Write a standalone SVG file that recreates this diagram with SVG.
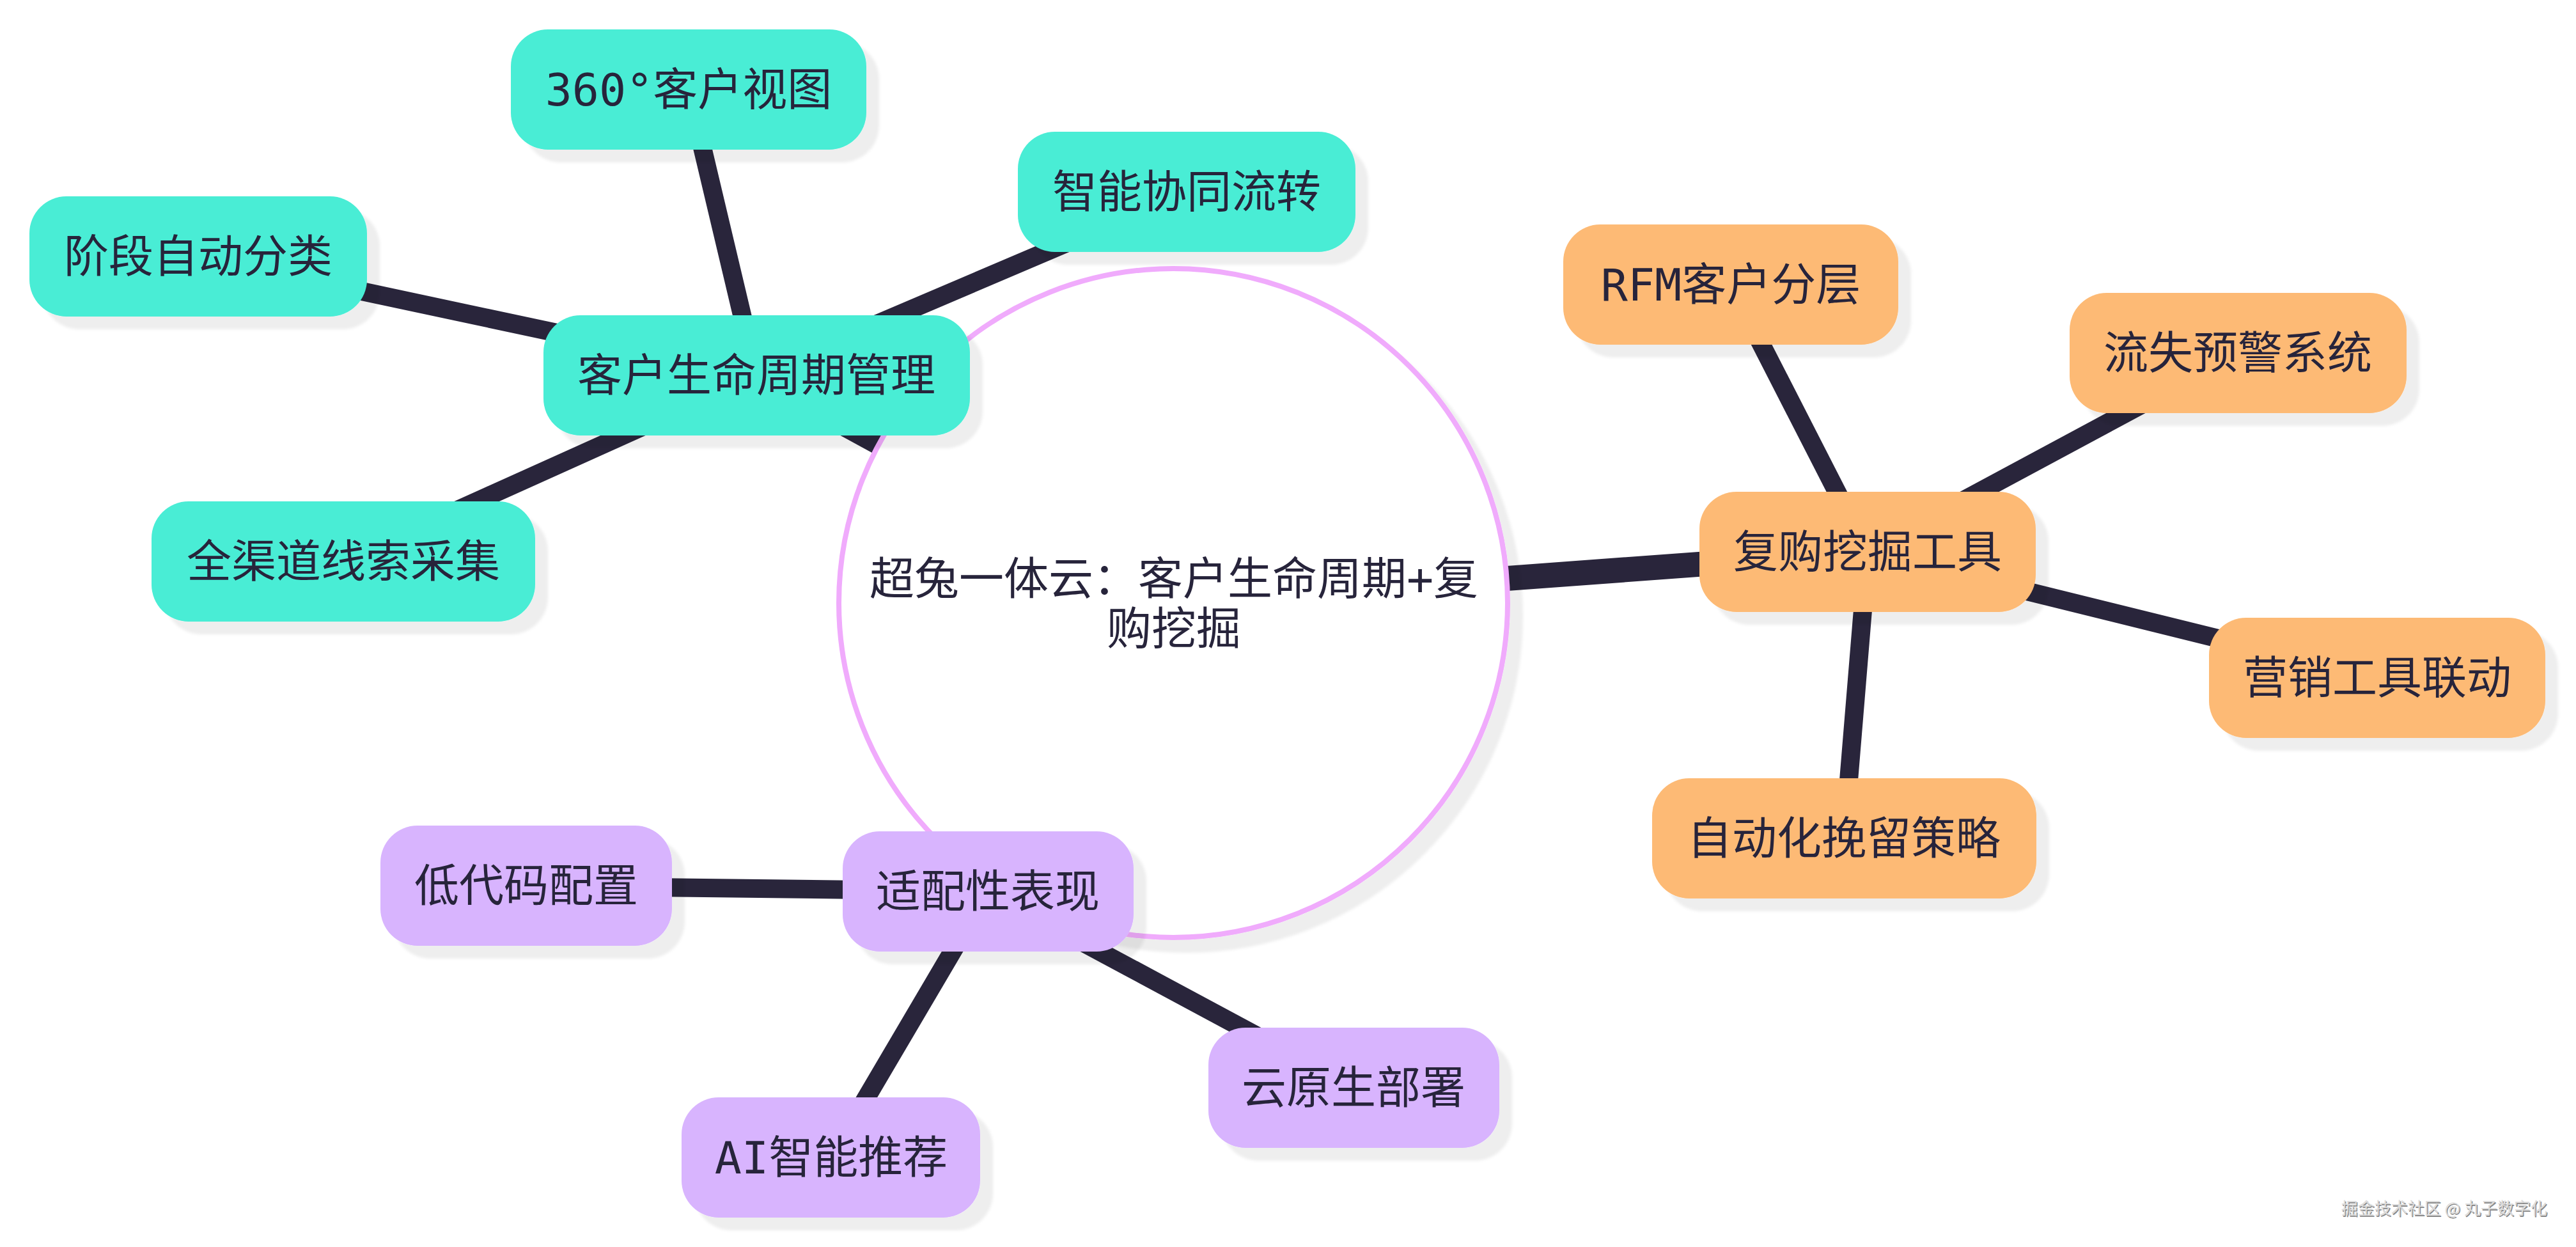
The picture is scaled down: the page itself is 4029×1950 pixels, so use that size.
<svg xmlns="http://www.w3.org/2000/svg" width="4029" height="1950" viewBox="0 0 4029 1950">
<defs>
<filter id="sh" x="-10%" y="-10%" width="130%" height="130%">
<feDropShadow dx="20" dy="20" stdDeviation="2" flood-color="#000" flood-opacity="0.065"/>
</filter>
<style>
.edge{stroke:#29253b;fill:none;stroke-linecap:butt}
.e0{stroke-width:39}
.e1{stroke-width:29}
.node rect{filter:url(#sh)}
.teal rect{fill:#48edd5}
.orange rect{fill:#fdba74}
.purple rect{fill:#d8b4fe}
.lbl{font-family:"DejaVu Sans Mono","Noto Sans CJK SC",monospace;font-size:70px;fill:#27243b;text-anchor:middle}
.wm{font-family:"Noto Sans CJK SC","Noto Sans",sans-serif;font-size:26px;text-anchor:end}
</style>
</defs>
<rect x="0" y="0" width="4029" height="1950" fill="#ffffff"/>
<g id="connectors">
<line class="edge e1" x1="1183" y1="587" x2="1077" y2="140"/>
<line class="edge e1" x1="1183" y1="587" x2="1856" y2="300"/>
<line class="edge e1" x1="1183" y1="587" x2="310" y2="401"/>
<line class="edge e1" x1="1183" y1="587" x2="537" y2="878"/>
<line class="edge e1" x1="2921" y1="863" x2="2707" y2="445"/>
<line class="edge e1" x1="2921" y1="863" x2="3500" y2="552"/>
<line class="edge e1" x1="2921" y1="863" x2="3718" y2="1060"/>
<line class="edge e1" x1="2921" y1="863" x2="2884" y2="1311"/>
<line class="edge e1" x1="1545" y1="1394" x2="823" y2="1385"/>
<line class="edge e1" x1="1545" y1="1394" x2="1300" y2="1810"/>
<line class="edge e1" x1="1545" y1="1394" x2="2117" y2="1701"/>
<line class="edge e0" x1="1835" y1="943" x2="1183" y2="587"/>
<line class="edge e0" x1="1835" y1="943" x2="2921" y2="863"/>
<line class="edge e0" x1="1835" y1="943" x2="1545" y2="1394"/>
</g>
<g id="root">
<circle cx="1835" cy="943" r="523" fill="#ffffff" stroke="#f0abfc" stroke-width="8" filter="url(#sh)"/>
<text class="lbl" x="1836" y="930">超兔一体云：客户生命周期+复</text>
<text class="lbl" x="1836" y="1008">购挖掘</text>
</g>
<g id="n1" class="node teal"><rect x="850" y="493" width="667" height="188" rx="58"/><text class="lbl" x="1183" y="612">客户生命周期管理</text></g>
<g id="n2" class="node teal"><rect x="799" y="46" width="556" height="188" rx="58"/><text class="lbl" x="1077" y="165">360°客户视图</text></g>
<g id="n3" class="node teal"><rect x="1592" y="206" width="528" height="188" rx="58"/><text class="lbl" x="1856" y="325">智能协同流转</text></g>
<g id="n4" class="node teal"><rect x="46" y="307" width="528" height="188" rx="58"/><text class="lbl" x="310" y="426">阶段自动分类</text></g>
<g id="n5" class="node teal"><rect x="237" y="784" width="600" height="188" rx="58"/><text class="lbl" x="537" y="903">全渠道线索采集</text></g>
<g id="n6" class="node orange"><rect x="2658" y="769" width="526" height="188" rx="58"/><text class="lbl" x="2921" y="888">复购挖掘工具</text></g>
<g id="n7" class="node orange"><rect x="2445" y="351" width="524" height="188" rx="58"/><text class="lbl" x="2707" y="470">RFM客户分层</text></g>
<g id="n8" class="node orange"><rect x="3237" y="458" width="527" height="188" rx="58"/><text class="lbl" x="3500" y="577">流失预警系统</text></g>
<g id="n9" class="node orange"><rect x="3455" y="966" width="526" height="188" rx="58"/><text class="lbl" x="3718" y="1085">营销工具联动</text></g>
<g id="n10" class="node orange"><rect x="2584" y="1217" width="601" height="188" rx="58"/><text class="lbl" x="2884" y="1336">自动化挽留策略</text></g>
<g id="n11" class="node purple"><rect x="1318" y="1300" width="455" height="188" rx="58"/><text class="lbl" x="1545" y="1419">适配性表现</text></g>
<g id="n12" class="node purple"><rect x="595" y="1291" width="456" height="188" rx="58"/><text class="lbl" x="823" y="1410">低代码配置</text></g>
<g id="n13" class="node purple"><rect x="1066" y="1716" width="467" height="188" rx="58"/><text class="lbl" x="1300" y="1835">AI智能推荐</text></g>
<g id="n14" class="node purple"><rect x="1890" y="1607" width="455" height="188" rx="58"/><text class="lbl" x="2117" y="1726">云原生部署</text></g>
<g id="watermark">
<text class="wm" x="3985.5" y="1900.5" fill="#8a8a8a">掘金技术社区 @ 丸子数字化</text>
<text class="wm" x="3984" y="1899" fill="#dcdcdc">掘金技术社区 @ 丸子数字化</text>
</g>
</svg>
